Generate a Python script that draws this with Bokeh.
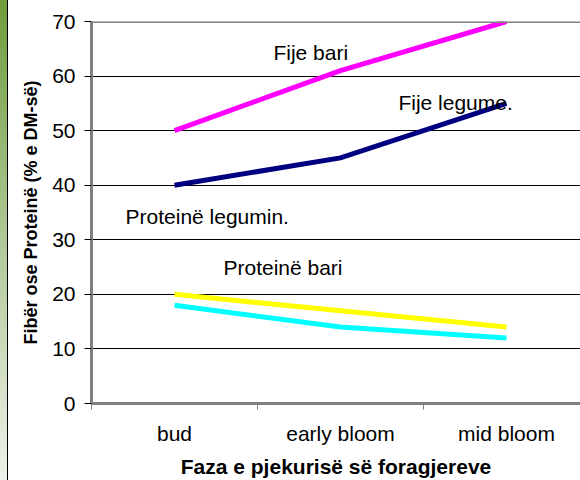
from bokeh.plotting import figure
from bokeh.models import Range1d, FixedTicker, Span, Label
from bokeh.embed import file_html
from bokeh.resources import INLINE

# ---- data ----
stages = ["bud", "early bloom", "mid bloom"]
fije_bari = [50, 61, 70]
fije_legume = [40, 45, 55]
proteine_legumin = [20, 17, 14]
proteine_bari = [18, 14, 12]
y_ticks = [0, 10, 20, 30, 40, 50, 60, 70]

x_idx = list(range(len(stages)))
FONT = "Liberation Sans"
GRAY = "#808080"

p = figure(width=580, height=480,
           x_range=Range1d(-0.5, 2.446), y_range=Range1d(y_ticks[0], y_ticks[-1]),
           output_backend="svg", toolbar_location=None,
           min_border_left=91, min_border_right=0, min_border_top=21, min_border_bottom=77)

p.outline_line_color = None
p.background_fill_color = "white"
p.border_fill_color = None

# grid
p.xgrid.grid_line_color = None
p.ygrid.grid_line_color = "black"
p.ygrid.grid_line_width = 1

# y axis
p.yaxis.ticker = FixedTicker(ticks=y_ticks)
p.yaxis.axis_line_color = GRAY
p.yaxis.axis_line_width = 3
p.yaxis.major_tick_line_color = "black"
p.yaxis.major_tick_out = 7
p.yaxis.major_tick_in = 0
p.yaxis.minor_tick_line_color = None
p.yaxis.major_label_standoff = 9
p.yaxis.major_label_text_font = FONT
p.yaxis.major_label_text_font_size = "21px"
p.yaxis.major_label_text_color = "black"
p.yaxis.axis_label = "Fibër ose Proteinë (% e DM-së)"
p.yaxis.axis_label_text_font = FONT
p.yaxis.axis_label_text_font_size = "18px"
p.yaxis.axis_label_text_font_style = "bold"
p.yaxis.axis_label_text_color = "black"
p.yaxis.axis_label_standoff = 8

# x axis
p.xaxis.ticker = FixedTicker(ticks=x_idx, minor_ticks=[i - 0.5 for i in x_idx])
p.xaxis.major_label_overrides = {i: s for i, s in zip(x_idx, stages)}
p.xaxis.axis_line_color = GRAY
p.xaxis.axis_line_width = 3
p.xaxis.major_tick_out = 0
p.xaxis.major_tick_in = 0
p.xaxis.major_tick_line_color = None
p.xaxis.minor_tick_out = 6
p.xaxis.minor_tick_in = 0
p.xaxis.minor_tick_line_color = GRAY
p.xaxis.minor_tick_line_width = 1
p.xaxis.major_label_standoff = 12
p.xaxis.major_label_text_font = FONT
p.xaxis.major_label_text_font_size = "21px"
p.xaxis.major_label_text_color = "black"
p.xaxis.axis_label = "Faza e pjekurisë së foragjereve"
p.xaxis.axis_label_text_font = FONT
p.xaxis.axis_label_text_font_size = "21px"
p.xaxis.axis_label_text_font_style = "bold"
p.xaxis.axis_label_text_color = "black"
p.xaxis.axis_label_standoff = 7

# top border of plot area
p.add_layout(Span(location=p.y_range.end, dimension="width", line_color=GRAY, line_width=3))

# series
for ys, col in [(fije_bari, "#FF00FF"), (fije_legume, "#000080"),
                (proteine_legumin, "#FFFF00"), (proteine_bari, "#00FFFF")]:
    p.line(x_idx, ys, line_color=col, line_width=5, line_join="miter")

# annotations
for txt, lx, ly in [("Fije bari", 0.596, 64.3),
                    ("Fije legume.", 1.349, 55.2),
                    ("Proteinë legumin.", -0.295, 34.3),
                    ("Proteinë bari", 0.295, 24.9)]:
    p.add_layout(Label(x=lx, y=ly, text=txt, text_font=FONT, text_font_size="21px",
                       text_color="black", text_baseline="alphabetic", text_align="left"))

template = """
{% block preamble %}
<style>
html, body { margin: 0 !important; padding: 0 !important; overflow: hidden; }
body {
  background:
    linear-gradient(to bottom, #6f9c3c 0%, #a9c48e 45%, #eef2ea 100%) 0 0 / 7px 100% no-repeat,
    linear-gradient(#000000, #000000) 7px 0 / 1px 100% no-repeat,
    #ffffff;
}
</style>
{% endblock %}
"""

open("out.html", "w").write(file_html(p, INLINE, "chart", template=template))
